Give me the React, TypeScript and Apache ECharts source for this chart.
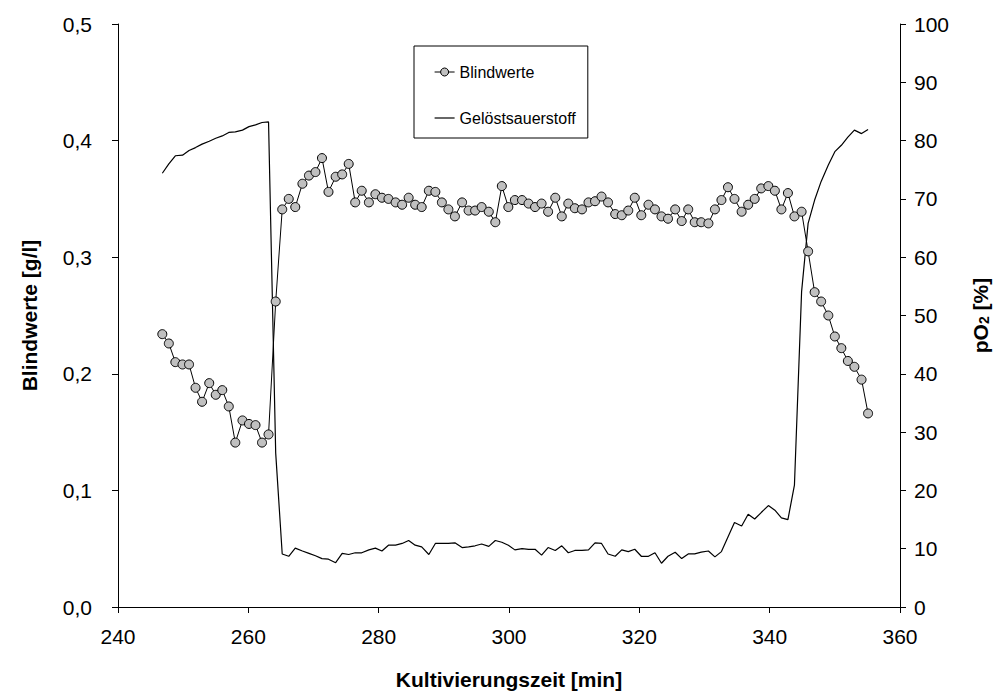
import React, { useEffect, useRef } from "react";
import * as echarts from "echarts";

// Kultivierungszeit [min]
const timeMin = [
  246.8, 247.8, 248.8, 249.9, 250.9, 251.9, 252.9, 254.0, 255.0, 256.0,
  257.0, 258.0, 259.1, 260.1, 261.1, 262.1, 263.1, 264.2, 265.2, 266.2,
  267.2, 268.3, 269.3, 270.3, 271.3, 272.3, 273.4, 274.4, 275.4, 276.4,
  277.4, 278.5, 279.5, 280.5, 281.5, 282.6, 283.6, 284.6, 285.6, 286.6,
  287.7, 288.7, 289.7, 290.7, 291.7, 292.8, 293.8, 294.8, 295.8, 296.9,
  297.9, 298.9, 299.9, 300.9, 302.0, 303.0, 304.0, 305.0, 306.0, 307.1,
  308.1, 309.1, 310.1, 311.2, 312.2, 313.2, 314.2, 315.2, 316.3, 317.3,
  318.3, 319.3, 320.3, 321.4, 322.4, 323.4, 324.4, 325.5, 326.5, 327.5,
  328.5, 329.5, 330.6, 331.6, 332.6, 333.6, 334.6, 335.7, 336.7, 337.7,
  338.7, 339.8, 340.8, 341.8, 342.8, 343.8, 344.9, 345.9, 346.9, 347.9,
  349.0, 350.0, 351.0, 352.0, 353.0, 354.1, 355.1,
];

// Blindwerte [g/l]
const blindwerte = [
  0.234, 0.226, 0.210, 0.208, 0.208, 0.188, 0.176, 0.192, 0.182, 0.186,
  0.172, 0.141, 0.160, 0.157, 0.156, 0.141, 0.148, 0.262, 0.341, 0.350,
  0.343, 0.363, 0.370, 0.373, 0.385, 0.356, 0.369, 0.371, 0.380, 0.347,
  0.357, 0.347, 0.354, 0.351, 0.350, 0.347, 0.345, 0.351, 0.345, 0.343,
  0.357, 0.356, 0.347, 0.341, 0.335, 0.347, 0.340, 0.340, 0.343, 0.339,
  0.330, 0.361, 0.343, 0.349, 0.349, 0.346, 0.343, 0.346, 0.339, 0.351,
  0.335, 0.346, 0.342, 0.341, 0.347, 0.348, 0.352, 0.347, 0.337, 0.336,
  0.340, 0.351, 0.336, 0.345, 0.341, 0.335, 0.333, 0.341, 0.331, 0.341,
  0.330, 0.330, 0.329, 0.341, 0.349, 0.360, 0.350, 0.339, 0.345, 0.350,
  0.359, 0.361, 0.357, 0.341, 0.355, 0.335, 0.339, 0.305, 0.270, 0.262,
  0.250, 0.232, 0.222, 0.211, 0.206, 0.195, 0.166,
];

// Gelöstsauerstoff pO2 [%]
const pO2 = [
  74.4, 76.0, 77.4, 77.5, 78.3, 78.8, 79.4, 79.9, 80.4, 80.8,
  81.4, 81.5, 81.8, 82.4, 82.7, 83.1, 83.2, 26.4, 9.1, 8.7,
  10.1, 9.6, 9.2, 8.8, 8.3, 8.2, 7.6, 9.2, 9.0, 9.3,
  9.3, 9.8, 10.1, 9.6, 10.6, 10.6, 10.9, 11.4, 10.6, 10.3,
  9.0, 10.9, 10.9, 10.9, 11.0, 10.2, 10.3, 10.5, 10.8, 10.4,
  11.4, 11.1, 10.6, 9.8, 10.0, 9.9, 9.9, 8.9, 10.2, 9.7,
  10.5, 9.3, 9.7, 9.7, 9.8, 11.0, 10.9, 9.1, 8.7, 9.8,
  9.5, 9.9, 8.7, 8.7, 9.3, 7.5, 8.7, 9.4, 8.3, 9.1,
  9.1, 9.4, 9.6, 8.6, 9.5, 12.0, 14.5, 13.9, 15.9, 15.1,
  16.2, 17.4, 16.6, 15.3, 15.0, 20.9, 54.1, 65.8, 69.8, 73.0,
  75.8, 78.1, 79.2, 80.6, 81.8, 81.2, 81.9,
];

const seriesNames = ["Blindwerte", "Gelöstsauerstoff"];
const xRange = [240, 360, 20];
const leftRange = [0, 0.5, 0.1];
const rightRange = [0, 100, 10];

export default function App() {
  const ref = useRef<HTMLDivElement>(null);
  useEffect(() => {
    const chart = echarts.init(ref.current!, null, { renderer: "svg" });
    const font = "'Liberation Sans', Arial, sans-serif";
    const axisCommon = {
      axisLine: { show: true, lineStyle: { color: "#000", width: 1 } },
      axisTick: { show: true, inside: false, length: 6, lineStyle: { color: "#000", width: 1 } },
      splitLine: { show: false },
    };
    const titleStyle = { color: "#000", fontSize: 21, fontWeight: "bold", fontFamily: font };
    chart.setOption({
      animation: false,
      backgroundColor: "#fff",
      textStyle: { fontFamily: font },
      grid: { left: 118, right: 104, top: 24, bottom: 92, containLabel: false },
      legend: {
        left: 414,
        top: 46,
        orient: "vertical",
        backgroundColor: "#fff",
        borderColor: "#000",
        borderWidth: 1,
        borderRadius: 0,
        padding: [18, 12, 12, 20],
        itemGap: 30,
        itemWidth: 20,
        itemHeight: 10,
        textStyle: { fontFamily: font, fontSize: 16, color: "#000" },
        data: [
          {
            name: seriesNames[0],
            itemStyle: { color: "#c0c0c0", borderColor: "#000", borderWidth: 1 },
            lineStyle: { color: "#000", width: 1 },
          },
          {
            name: seriesNames[1],
            itemStyle: { color: "rgba(0,0,0,0)", borderColor: "rgba(0,0,0,0)", borderWidth: 0 },
            lineStyle: { color: "#000", width: 1.2 },
          },
        ],
      },
      xAxis: {
        type: "value",
        min: xRange[0],
        max: xRange[1],
        interval: xRange[2],
        ...axisCommon,
        axisLabel: { color: "#000", fontSize: 21, fontFamily: font, margin: 19 },
        name: "Kultivierungszeit [min]",
        nameLocation: "middle",
        nameGap: 62,
        nameTextStyle: titleStyle,
      },
      yAxis: [
        {
          type: "value",
          position: "left",
          min: leftRange[0],
          max: leftRange[1],
          interval: leftRange[2],
          ...axisCommon,
          axisLabel: {
            color: "#000",
            fontSize: 21,
            fontFamily: font,
            margin: 26,
            formatter: (v: number) => v.toFixed(1).replace(".", ","),
          },
          name: "Blindwerte [g/l]",
          nameLocation: "middle",
          nameRotate: 90,
          nameGap: 78,
          nameTextStyle: titleStyle,
        },
        {
          type: "value",
          position: "right",
          min: rightRange[0],
          max: rightRange[1],
          interval: rightRange[2],
          ...axisCommon,
          axisLabel: { color: "#000", fontSize: 21, fontFamily: font, margin: 14 },
          name: "{a|pO}{b|2}{a| [%]}",
          nameLocation: "middle",
          nameRotate: 90,
          nameGap: 70,
          nameTextStyle: {
            color: "#000",
            fontFamily: font,
            rich: {
              a: { fontSize: 21, fontWeight: "bold", fontFamily: font, color: "#000" },
              b: { fontSize: 14, fontWeight: "bold", fontFamily: font, color: "#000", verticalAlign: "bottom", padding: [7, 0, 0, 0] },
            },
          },
        },
      ],
      series: [
        {
          name: seriesNames[0],
          type: "line",
          yAxisIndex: 0,
          data: timeMin.map((t, i) => [t, blindwerte[i]]),
          symbol: "circle",
          symbolSize: 9,
          showSymbol: true,
          lineStyle: { color: "#000", width: 1 },
          itemStyle: { color: "#c0c0c0", borderColor: "#000", borderWidth: 1 },
          z: 3,
        },
        {
          name: seriesNames[1],
          type: "line",
          yAxisIndex: 1,
          data: timeMin.map((t, i) => [t, pO2[i]]),
          symbol: "none",
          showSymbol: false,
          lineStyle: { color: "#000", width: 1.2 },
          itemStyle: { color: "#000" },
          z: 2,
        },
      ],
    });
    return () => chart.dispose();
  }, []);
  return (
    <div
      ref={ref}
      style={{ position: "fixed", left: 0, top: 0, width: 1004, height: 699, background: "#fff" }}
    />
  );
}
